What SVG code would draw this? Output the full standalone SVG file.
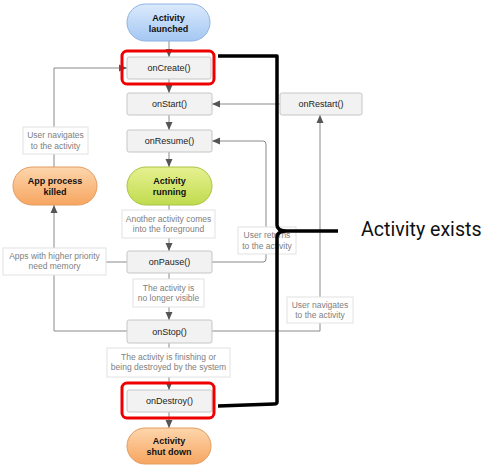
<svg xmlns="http://www.w3.org/2000/svg" width="484" height="473" viewBox="0 0 484 473">
<defs>
<linearGradient id="gBlue" x1="0" y1="0" x2="0" y2="1"><stop offset="0" stop-color="#dbeafc"/><stop offset="1" stop-color="#a4c7f3"/></linearGradient>
<linearGradient id="gGreen" x1="0" y1="0" x2="0" y2="1"><stop offset="0" stop-color="#e6f191"/><stop offset="1" stop-color="#c0db4e"/></linearGradient>
<linearGradient id="gOrange" x1="0" y1="0" x2="0" y2="1"><stop offset="0" stop-color="#fdd6ad"/><stop offset="1" stop-color="#f7a560"/></linearGradient>
<marker id="arr" viewBox="0 0 8 8" refX="8" refY="4" markerWidth="8" markerHeight="8" markerUnits="userSpaceOnUse" orient="auto"><path d="M0,0.5 L8,4 L0,7.5 Z" fill="#555"/></marker>
</defs>
<style>
.box{fill:#f2f2f2;stroke:#c6c6c6;stroke-width:1}
.lbl{fill:#fff;stroke:#e2e2e2;stroke-width:1}
.t{font-family:"Liberation Sans",Arial,sans-serif;font-size:9px;fill:#222;text-anchor:middle}
.b{font-family:"Liberation Sans",Arial,sans-serif;font-size:9px;font-weight:bold;fill:#111;text-anchor:middle}
.g{font-family:"Liberation Sans",Arial,sans-serif;font-size:8.5px;fill:#808080;text-anchor:middle}
.c{fill:none;stroke:#8a8a8a;stroke-width:1}
.red{fill:none;stroke:#ee0000;stroke-width:3}
.br{fill:none;stroke:#000;stroke-width:3.5;stroke-linejoin:round}
</style>
<rect width="484" height="473" fill="#fff"/>

<g id="connectors">
<path class="c" d="M169,41 V57" marker-end="url(#arr)"/>
<path class="c" d="M169,79 V93" marker-end="url(#arr)"/>
<path class="c" d="M169,115 V130" marker-end="url(#arr)"/>
<path class="c" d="M169,152 V167" marker-end="url(#arr)"/>
<path class="c" d="M169,205 V251" marker-end="url(#arr)"/>
<path class="c" d="M169,273 V320" marker-end="url(#arr)"/>
<path class="c" d="M169,343 V390" marker-end="url(#arr)"/>
<path class="c" d="M169,412 V428" marker-end="url(#arr)"/>
<path class="c" d="M280,104 H212" marker-end="url(#arr)"/>
<path class="c" d="M212,262 H263 Q266,262 266,259 V144 Q266,141 263,141 H212" marker-end="url(#arr)"/>
<path class="c" d="M212,331 H320 V115" marker-end="url(#arr)"/>
<path class="c" d="M127,262 H106"/>
<path class="c" d="M54,248 V205" marker-end="url(#arr)"/>
<path class="c" d="M127,331 H54 V275"/>
<path class="c" d="M54,167 V68 H127" marker-end="url(#arr)"/>
</g>

<g id="launched"><rect x="127" y="4" width="83" height="37" rx="18.5" fill="url(#gBlue)" stroke="#8fb3e3"/><text class="b" x="168.5" y="20.5">Activity</text><text class="b" x="168.5" y="31.5">launched</text></g>
<g id="onCreate"><rect class="box" x="127" y="57" width="84" height="22" rx="2"/><text class="t" x="169" y="71">onCreate()</text></g>
<g id="onStart"><rect class="box" x="127" y="93" width="85" height="22" rx="2"/><text class="t" x="169.5" y="107">onStart()</text></g>
<g id="onResume"><rect class="box" x="127" y="130" width="85" height="22" rx="2"/><text class="t" x="169.5" y="144">onResume()</text></g>
<g id="running"><rect x="127" y="167" width="85" height="38" rx="19" fill="url(#gGreen)" stroke="#a8c342"/><text class="b" x="169.5" y="184">Activity</text><text class="b" x="169.5" y="195">running</text></g>
<g id="killed"><rect x="13" y="167" width="84" height="38" rx="19" fill="url(#gOrange)" stroke="#e29c5e"/><text class="b" x="55" y="184">App process</text><text class="b" x="55" y="195">killed</text></g>
<g id="lblUserNavLeft"><rect class="lbl" x="23" y="127" width="65" height="27"/><text class="g" x="55.5" y="138">User navigates</text><text class="g" x="55.5" y="149">to the activity</text></g>
<g id="lblAnother"><rect class="lbl" x="122" y="210" width="93" height="28"/><text class="g" x="168.5" y="222">Another activity comes</text><text class="g" x="168.5" y="232">into the foreground</text></g>
<g id="onPause"><rect class="box" x="127" y="251" width="85" height="22" rx="2"/><text class="t" x="169.5" y="265">onPause()</text></g>
<g id="lblApps"><rect class="lbl" x="3" y="248" width="103" height="27"/><text class="g" x="54.5" y="259">Apps with higher priority</text><text class="g" x="54.5" y="269">need memory</text></g>
<g id="lblNoLonger"><rect class="lbl" x="133" y="279" width="71" height="28"/><text class="g" x="168.5" y="291">The activity is</text><text class="g" x="168.5" y="301">no longer visible</text></g>
<g id="onStop"><rect class="box" x="127" y="320" width="85" height="23" rx="2"/><text class="t" x="169.5" y="334.5">onStop()</text></g>
<g id="lblFinishing"><rect class="lbl" x="107" y="348" width="123" height="29"/><text class="g" x="168.5" y="360">The activity is finishing or</text><text class="g" x="168.5" y="370">being destroyed by the system</text></g>
<g id="onDestroy"><rect class="box" x="127" y="390" width="85" height="22" rx="2"/><text class="t" x="169.5" y="404">onDestroy()</text></g>
<g id="shutdown"><rect x="127" y="428" width="84" height="36" rx="18" fill="url(#gOrange)" stroke="#e29c5e"/><text class="b" x="169" y="444">Activity</text><text class="b" x="169" y="455">shut down</text></g>
<g id="onRestart"><rect class="box" x="280" y="93" width="82" height="22" rx="2"/><text class="t" x="321" y="107">onRestart()</text></g>
<g id="lblUserReturns"><rect class="lbl" x="238" y="227" width="58" height="27"/><text class="g" x="267" y="238">User returns</text><text class="g" x="267" y="249">to the activity</text></g>
<g id="lblUserNavRight"><rect class="lbl" x="287" y="297" width="66" height="26"/><text class="g" x="320" y="308">User navigates</text><text class="g" x="320" y="318">to the activity</text></g>

<g id="highlights">
<rect class="red" x="122" y="51" width="92" height="33" rx="5"/>
<rect class="red" x="122" y="383" width="92" height="35" rx="5"/>
<path class="br" d="M218,56 H277 V225 Q277,231 287,231 H338 M287,231 Q277,231 277,237 V402 Q277,404 274,404 L218,406"/>
<text x="361" y="236" font-family="Roboto,'Liberation Sans',sans-serif" font-size="19.6" fill="#111">Activity exists</text>
</g>
</svg>
